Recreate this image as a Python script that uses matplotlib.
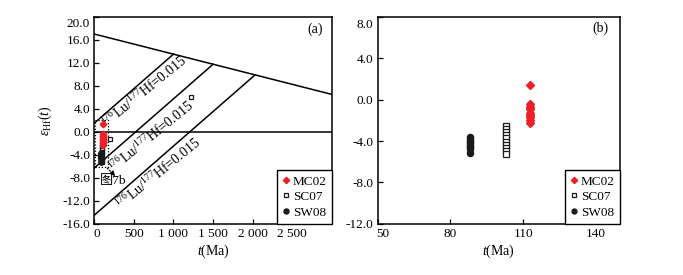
import matplotlib
matplotlib.use("Agg")
import matplotlib.pyplot as plt
from matplotlib.patches import Rectangle
from matplotlib.transforms import ScaledTranslation

plt.rcParams['font.family'] = ['Liberation Serif', 'Noto Sans CJK SC']
plt.rcParams['mathtext.fontset'] = 'custom'
plt.rcParams['mathtext.rm'] = 'Liberation Serif'
plt.rcParams['mathtext.it'] = 'Liberation Serif:italic'

# ---- data ----
mc02_age = 113
mc02_eps = [1.4, -0.45, -0.7, -0.95, -1.25, -1.5, -1.7, -2.0, -2.3]
sc07_age = 103
sc07_eps = [-2.55, -2.85, -3.15, -3.45, -3.75, -4.05, -4.35, -4.65, -4.95, -5.25]
sc07_old_age = [205, 1220]
sc07_old_eps = [-1.2, 6.1]
sw08_age = 88
sw08_eps = [-3.6, -3.8, -3.95, -4.1, -4.3, -4.45, -4.6, -4.8, -5.2]

dm_age = [0, 3000]
dm_eps = [17.0, 6.5]
crust_start_eps = [1.5, -6.3, -14.5]
crust_end_age = [1000, 1500, 2030]
crust_end_eps = [13.5, 11.75, 9.9]
crust_label = r'$^{176}$Lu/$^{177}$Hf=0.015'
crust_label_pos = [(628, 7.0), (725, -0.9), (804, -7.2)]

xticks_a = [0, 500, 1000, 1500, 2000, 2500]
xticklabels_a = ['0', '500', '1 000', '1 500', '2 000', '2 500']
yticks_a = [-16, -12, -8, -4, 0, 4, 8, 12, 16, 20]
xticks_b = [50, 80, 110, 140]
yticks_b = [-12, -8, -4, 0, 4, 8]

red = '#ee2027'
blk = '#1a1a1a'
TS = 9.5

fig = plt.figure(figsize=(6.83, 2.75), dpi=100)
ax1 = fig.add_axes([0.138, 0.186, 0.348, 0.753])
ax2 = fig.add_axes([0.553, 0.186, 0.355, 0.753])


def style(ax):
    for s in ax.spines.values():
        s.set_linewidth(1.1)
    ax.tick_params(direction='in', length=3.5, width=0.9, labelsize=TS,
                   top=False, right=False, pad=3)


def draw_points(ax, ms):
    ax.plot([mc02_age] * len(mc02_eps), mc02_eps, ls='none', marker='D',
            ms=ms * 0.9, mfc=red, mec=red, label='MC02', zorder=5)
    ax.plot([sc07_age] * len(sc07_eps), sc07_eps, ls='none', marker='s',
            ms=ms * 0.85, mfc='white', mec=blk, mew=0.9, label='SC07', zorder=4)
    ax.plot([sw08_age] * len(sw08_eps), sw08_eps, ls='none', marker='o',
            ms=ms, mfc=blk, mec=blk, label='SW08', zorder=4)


def legend(ax, scale):
    lg = ax.legend(loc='lower right', bbox_to_anchor=(1, 0), borderaxespad=0,
                   fontsize=9.5, frameon=True, fancybox=False, handlelength=0.5,
                   handletextpad=0.3, labelspacing=0.25, borderpad=0.4,
                   markerscale=scale)
    fr = lg.get_frame()
    fr.set_edgecolor('black')
    fr.set_linewidth(1.0)
    fr.set_alpha(1)
    return lg


# ---- panel a ----
style(ax1)
ax1.set_xlim(0, 3000)
ax1.set_ylim(-16, 20)
ax1.plot(dm_age, dm_eps, color='black', lw=1.1)
ax1.axhline(0, color='black', lw=1.1)
for b, ta, ea in zip(crust_start_eps, crust_end_age, crust_end_eps):
    ax1.plot([0, ta], [b, ea], color='black', lw=1.1)
for (tx, ty) in crust_label_pos:
    ax1.text(tx, ty, crust_label, rotation=39, rotation_mode='anchor',
             ha='center', va='center', fontsize=10)

ax1.add_patch(Rectangle((6, -6.2), 170, 8.3, fill=False, ls=(0, (1, 1.5)),
                        lw=0.9, ec='black', zorder=3))
ax1.annotate('', xy=(250, -7.5), xytext=(165, -6.3),
             arrowprops=dict(arrowstyle='-', ls=(0, (1, 1.5)), lw=0.9,
                             color='black', shrinkA=0, shrinkB=0))
ax1.annotate('', xy=(262, -7.7), xytext=(240, -7.35),
             arrowprops=dict(arrowstyle='-|>', lw=0.8, color='black',
                             mutation_scale=7, shrinkA=0, shrinkB=0))
ax1.text(75, -8.6, '图7b', ha='left', va='center', fontsize=9.5)

draw_points(ax1, 3.8)
ax1.plot(sc07_old_age, sc07_old_eps, ls='none', marker='s', ms=3.3,
         mfc='white', mec=blk, mew=0.9, zorder=4)

ax1.set_xticks(xticks_a)
ax1.set_xticklabels(xticklabels_a)
ax1.set_yticks(yticks_a)
ax1.set_yticklabels([f'{v:.1f}' for v in yticks_a])
ax1.set_xlabel(r'$t$(Ma)', fontsize=10, labelpad=2)
ax1.set_ylabel(r'$\varepsilon_{\mathrm{Hf}}(t)$', fontsize=10, labelpad=6)
ax1.text(0.93, 0.94, '(a)', transform=ax1.transAxes, ha='center',
         va='center', fontsize=10)
legend(ax1, 0.95)

# ---- panel b ----
style(ax2)
ax2.set_xlim(50, 150)
ax2.set_ylim(-12, 8)
draw_points(ax2, 4.4)
ax2.set_xticks(xticks_b)
ax2.set_yticks(yticks_b)
ax2.set_yticklabels([f'{v:.1f}' for v in yticks_b])
ax2.set_xlabel(r'$t$(Ma)', fontsize=10, labelpad=2)
ax2.text(0.918, 0.945, '(b)', transform=ax2.transAxes, ha='center',
         va='center', fontsize=10)
legend(ax2, 0.8)

# nudge edge tick labels inward like the reference
fig.canvas.draw()
def nudge(lbl, dx, dy):
    lbl.set_transform(lbl.get_transform() +
                      ScaledTranslation(dx / 72, dy / 72, fig.dpi_scale_trans))
nudge(ax1.get_yticklabels()[-1], 0, -4)
nudge(ax2.get_yticklabels()[-1], 0, -5)
nudge(ax2.get_xticklabels()[0], 3.5, 0)
nudge(ax1.get_xticklabels()[0], 2, 0)

fig.savefig('out.png', dpi=100)
